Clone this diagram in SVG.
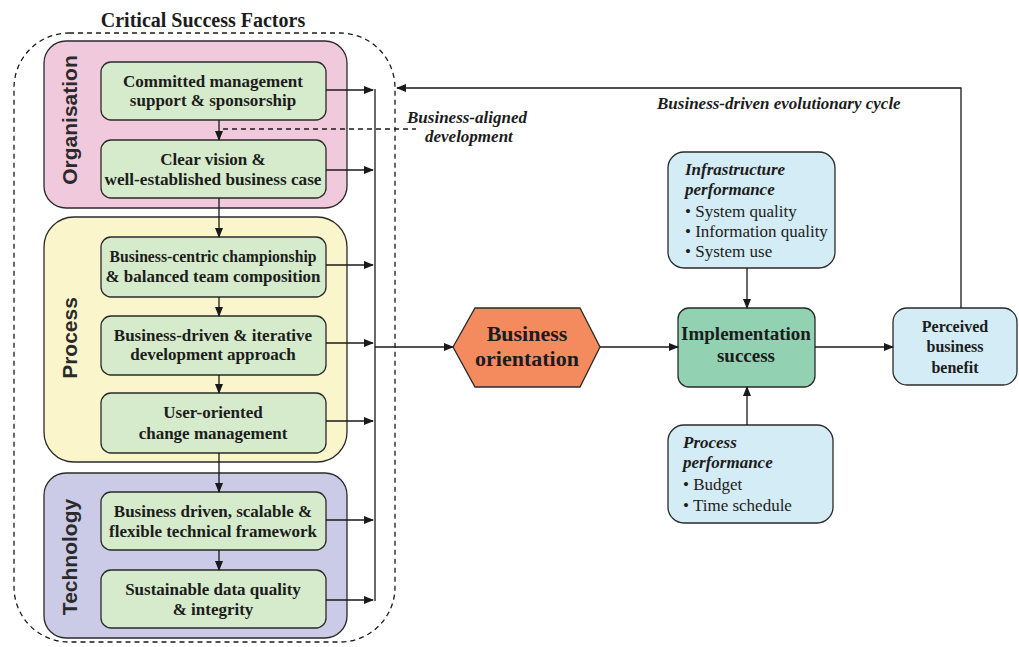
<svg xmlns="http://www.w3.org/2000/svg" width="1019" height="647" viewBox="0 0 1019 647">
  <style>
    .t { font-family: "Liberation Serif", "Times New Roman", serif; fill: #1c1c1c; }
    .b { font-weight: bold; }
    .i { font-style: italic; }
    .box { fill: #d6ebcb; stroke: #2a2a2a; stroke-width: 1.3; }
    .lane { stroke: #2a2a2a; stroke-width: 1.3; }
    .lbl { font-family: "Liberation Sans", Arial, sans-serif; font-weight: bold; font-size: 21px; fill: #2a2a2a; }
    .ln { stroke: #1a1a1a; stroke-width: 1.3; fill: none; }
    .dash { stroke: #1a1a1a; stroke-width: 1.3; fill: none; stroke-dasharray: 5 4; }
    .blue { fill: #d4ecf5; stroke: #2a2a2a; stroke-width: 1.3; }
  </style>
  <defs>
    <marker id="ah" markerWidth="10" markerHeight="8" refX="9" refY="4" orient="auto" markerUnits="userSpaceOnUse">
      <path d="M0,0 L10,4 L0,8 Z" fill="#1a1a1a"/>
    </marker>
  </defs>
  <rect width="1019" height="647" fill="#ffffff"/>

  <!-- Critical success factors boundary -->
  <g id="csf">
    <rect x="14" y="33" width="381" height="609" rx="55" class="dash"/>
    <text x="203" y="27" text-anchor="middle" class="t b" font-size="20">Critical Success Factors</text>
  </g>

  <!-- Organisation lane -->
  <g id="organisation">
    <rect x="44" y="41" width="303" height="167" rx="22" fill="#f1c9dd" class="lane"/>
    <text class="lbl" transform="translate(77,120) rotate(-90)" text-anchor="middle">Organisation</text>
  </g>
  <g id="csf1">
    <rect x="101" y="62" width="225" height="58" rx="10" class="box"/>
    <text x="213" y="87" text-anchor="middle" class="t b" font-size="17">Committed management</text>
    <text x="213" y="106" text-anchor="middle" class="t b" font-size="17">support &amp; sponsorship</text>
  </g>
  <g id="csf2">
    <rect x="101" y="140" width="225" height="58" rx="10" class="box"/>
    <text x="213" y="165" text-anchor="middle" class="t b" font-size="17">Clear vision &amp;</text>
    <text x="213" y="185" text-anchor="middle" class="t b" font-size="17" textLength="217" lengthAdjust="spacingAndGlyphs">well-established business case</text>
  </g>

  <!-- Process lane -->
  <g id="process">
    <rect x="44" y="217" width="303" height="245" rx="30" fill="#fbf5cb" class="lane"/>
    <text class="lbl" transform="translate(77,338) rotate(-90)" text-anchor="middle">Process</text>
  </g>
  <g id="csf3">
    <rect x="101" y="237" width="225" height="60" rx="10" class="box"/>
    <text x="213" y="262" text-anchor="middle" class="t b" font-size="16" textLength="207" lengthAdjust="spacingAndGlyphs">Business-centric championship</text>
    <text x="213" y="282" text-anchor="middle" class="t b" font-size="17" textLength="215" lengthAdjust="spacingAndGlyphs">&amp; balanced team composition</text>
  </g>
  <g id="csf4">
    <rect x="101" y="316" width="225" height="59" rx="10" class="box"/>
    <text x="213" y="341" text-anchor="middle" class="t b" font-size="17">Business-driven &amp; iterative</text>
    <text x="213" y="360" text-anchor="middle" class="t b" font-size="17">development approach</text>
  </g>
  <g id="csf5">
    <rect x="101" y="393" width="225" height="60" rx="10" class="box"/>
    <text x="213" y="418" text-anchor="middle" class="t b" font-size="17">User-oriented</text>
    <text x="213" y="439" text-anchor="middle" class="t b" font-size="17">change management</text>
  </g>

  <!-- Technology lane -->
  <g id="technology">
    <rect x="44" y="473" width="303" height="165" rx="22" fill="#cbcae7" class="lane"/>
    <text class="lbl" transform="translate(77,557) rotate(-90)" text-anchor="middle">Technology</text>
  </g>
  <g id="csf6">
    <rect x="101" y="492" width="225" height="58" rx="10" class="box"/>
    <text x="213" y="517" text-anchor="middle" class="t b" font-size="17">Business driven, scalable &amp;</text>
    <text x="213" y="537" text-anchor="middle" class="t b" font-size="17" textLength="208" lengthAdjust="spacingAndGlyphs">flexible technical framework</text>
  </g>
  <g id="csf7">
    <rect x="101" y="570" width="225" height="58" rx="10" class="box"/>
    <text x="213" y="595" text-anchor="middle" class="t b" font-size="17">Sustainable data quality</text>
    <text x="213" y="615" text-anchor="middle" class="t b" font-size="17">&amp; integrity</text>
  </g>

  <!-- Business orientation -->
  <g id="business-orientation">
    <polygon points="453,347 475,308 580,308 600,347 580,387 475,387" fill="#f38b5f" stroke="#2a2a2a" stroke-width="1.3"/>
    <text x="527" y="341" text-anchor="middle" class="t b" font-size="22">Business</text>
    <text x="527" y="366" text-anchor="middle" class="t b" font-size="22">orientation</text>
  </g>

  <!-- Implementation success -->
  <g id="implementation-success">
    <rect x="678" y="308" width="137" height="79" rx="11" fill="#92d2b3" stroke="#2a2a2a" stroke-width="1.3"/>
    <text x="746" y="340" text-anchor="middle" class="t b" font-size="19">Implementation</text>
    <text x="746" y="362" text-anchor="middle" class="t b" font-size="19">success</text>
  </g>

  <!-- Infrastructure performance -->
  <g id="infrastructure-performance">
    <rect x="668" y="152" width="167" height="116" rx="16" class="blue"/>
    <text x="685" y="175" class="t b i" font-size="17">Infrastructure</text>
    <text x="685" y="195" class="t b i" font-size="17">performance</text>
    <text x="685" y="217" class="t" font-size="17">• System quality</text>
    <text x="685" y="237" class="t" font-size="17">• Information quality</text>
    <text x="685" y="257" class="t" font-size="17">• System use</text>
  </g>

  <!-- Process performance -->
  <g id="process-performance">
    <rect x="668" y="425" width="165" height="98" rx="16" class="blue"/>
    <text x="683" y="448" class="t b i" font-size="17">Process</text>
    <text x="683" y="468" class="t b i" font-size="17">performance</text>
    <text x="683" y="490" class="t" font-size="17">• Budget</text>
    <text x="683" y="511" class="t" font-size="17">• Time schedule</text>
  </g>

  <!-- Perceived business benefit -->
  <g id="perceived-benefit">
    <rect x="893" y="308" width="124" height="77" rx="14" class="blue"/>
    <text x="955" y="332" text-anchor="middle" class="t b" font-size="16">Perceived</text>
    <text x="955" y="352" text-anchor="middle" class="t b" font-size="16">business</text>
    <text x="955" y="373" text-anchor="middle" class="t b" font-size="16">benefit</text>
  </g>

  <!-- Annotations -->
  <g id="annotations">
    <text x="407" y="123" class="t b i" font-size="17">Business-aligned</text>
    <text x="425" y="142" class="t b i" font-size="17">development</text>
    <text x="657" y="109" class="t b i" font-size="17">Business-driven evolutionary cycle</text>
  </g>

  <!-- Connectors -->
  <g id="connectors">
    <!-- vertical flow within lanes -->
    <line x1="219" y1="120" x2="219" y2="140" class="ln" marker-end="url(#ah)"/>
    <line x1="219" y1="198" x2="219" y2="237" class="ln" marker-end="url(#ah)"/>
    <line x1="219" y1="297" x2="219" y2="316" class="ln" marker-end="url(#ah)"/>
    <line x1="219" y1="375" x2="219" y2="393" class="ln" marker-end="url(#ah)"/>
    <line x1="219" y1="453" x2="219" y2="492" class="ln" marker-end="url(#ah)"/>
    <line x1="219" y1="550" x2="219" y2="570" class="ln" marker-end="url(#ah)"/>
    <!-- dashed business-aligned line -->
    <line x1="223" y1="129" x2="416" y2="129" class="dash"/>
    <!-- factors into collector bus -->
    <line x1="326" y1="90" x2="373" y2="90" class="ln" marker-end="url(#ah)"/>
    <line x1="326" y1="170" x2="373" y2="170" class="ln" marker-end="url(#ah)"/>
    <line x1="326" y1="265" x2="373" y2="265" class="ln" marker-end="url(#ah)"/>
    <line x1="326" y1="343" x2="373" y2="343" class="ln" marker-end="url(#ah)"/>
    <line x1="326" y1="421" x2="373" y2="421" class="ln" marker-end="url(#ah)"/>
    <line x1="326" y1="520" x2="373" y2="520" class="ln" marker-end="url(#ah)"/>
    <line x1="326" y1="600" x2="373" y2="600" class="ln" marker-end="url(#ah)"/>
    <line x1="375" y1="89" x2="375" y2="601" class="ln"/>
    <!-- bus to business orientation -->
    <line x1="375" y1="347" x2="453" y2="347" class="ln" marker-end="url(#ah)"/>
    <line x1="600" y1="347" x2="678" y2="347" class="ln" marker-end="url(#ah)"/>
    <line x1="747" y1="268" x2="747" y2="308" class="ln" marker-end="url(#ah)"/>
    <line x1="747" y1="425" x2="747" y2="387" class="ln" marker-end="url(#ah)"/>
    <line x1="815" y1="347" x2="893" y2="347" class="ln" marker-end="url(#ah)"/>
    <!-- evolutionary feedback loop -->
    <polyline points="961,308 961,88 397,88" class="ln" marker-end="url(#ah)"/>
  </g>
</svg>
